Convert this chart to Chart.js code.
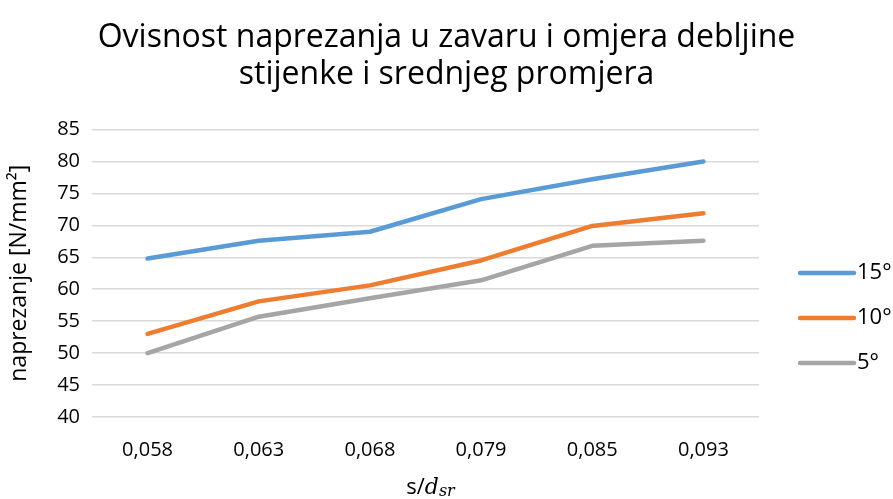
<!DOCTYPE html>
<html>
<head>
<meta charset="utf-8">
<script src="https://cdn.jsdelivr.net/npm/chart.js@4"></script>
<style>
  html, body { margin: 0; padding: 0; background: #fff; }
  #wrap { width: 893px; height: 499px; }
</style>
</head>
<body>
<div id="wrap"><canvas id="myChart"></canvas></div>
<script>
// data
const categories = ["0,058", "0,063", "0,068", "0,079", "0,085", "0,093"];
const series15 = [64.8, 67.6, 69.0, 74.1, 77.2, 80.0];
const series10 = [53.0, 58.1, 60.6, 64.5, 69.9, 71.9];
const series5 = [50.0, 55.7, 58.6, 61.4, 66.8, 67.6];
const seriesNames = ["15°", "10°", "5°"];
const yTicks = [40, 45, 50, 55, 60, 65, 70, 75, 80, 85];
const titleLines = [
  "Ovisnost naprezanja u zavaru i omjera debljine",
  "stijenke i srednjeg promjera",
];

const FONT = "Open Sans";

// chart title, centred on the whole canvas (legend sits to the right)
const titlePlugin = {
  id: "wideTitle",
  afterDraw(chart) {
    const c = chart.ctx;
    c.save();
    c.fillStyle = "#000";
    c.font = "32px '" + FONT + "'";
    c.textAlign = "center";
    c.textBaseline = "middle";
    titleLines.forEach(function (line, i) {
      c.fillText(line, chart.width / 2, 38 + i * 37);
    });
    c.restore();
  },
};

// x axis title with italic subscript: s/d_sr
const xTitlePlugin = {
  id: "xTitle",
  afterDraw(chart) {
    const c = chart.ctx;
    const area = chart.chartArea;
    c.save();
    c.fillStyle = "#000";
    c.textBaseline = "alphabetic";
    let parts = [
      { t: "s/", f: "22px '" + FONT + "'", dy: 0 },
      { t: "d", f: "italic 22px 'DejaVu Serif'", dy: 0 },
      { t: "sr", f: "italic 16px 'DejaVu Serif'", dy: 2 },
    ];
    let total = 0;
    for (let p of parts) {
      c.font = p.f;
      p.w = c.measureText(p.t).width;
      total += p.w;
    }
    let x = (area.left + area.right) / 2 - total / 2 + 5;
    let y = 494;
    for (let p of parts) {
      c.font = p.f;
      c.fillText(p.t, x, y + p.dy);
      x += p.w;
    }
    c.restore();
  },
};

// legend drawn at the right side
const legendPlugin = {
  id: "sideLegend",
  afterDraw(chart) {
    const c = chart.ctx;
    c.save();
    chart.data.datasets.forEach(function (ds, i) {
      let y = 273 + i * 45;
      c.strokeStyle = ds.borderColor;
      c.lineWidth = 4.5;
      c.lineCap = "round";
      c.beginPath();
      c.moveTo(800, y);
      c.lineTo(854, y);
      c.stroke();
      c.fillStyle = "#000";
      c.font = "22px '" + FONT + "'";
      c.textBaseline = "middle";
      c.textAlign = "left";
      c.fillText(ds.label, 857, y);
    });
    c.restore();
  },
};

const ctx = document.getElementById("myChart");

function makeSet(label, values, color) {
  return {
    label: label,
    data: values,
    borderColor: color,
    backgroundColor: color,
    borderWidth: 4.5,
    borderCapStyle: "round",
    borderJoinStyle: "round",
    pointRadius: 0,
    tension: 0,
    fill: false,
  };
}

new Chart(ctx, {
  type: "line",
  data: {
    labels: categories,
    datasets: [
      makeSet(seriesNames[0], series15, "#5B9BD5"),
      makeSet(seriesNames[1], series10, "#ED7D31"),
      makeSet(seriesNames[2], series5, "#A5A5A5"),
    ],
  },
  plugins: [titlePlugin, xTitlePlugin, legendPlugin],
  options: {
    responsive: true,
    maintainAspectRatio: false,
    animation: false,
    layout: { padding: { left: 0, right: 134, top: 129.5, bottom: 0 } },
    plugins: {
      legend: { display: false },
      tooltip: { enabled: false },
      title: { display: false },
    },
    scales: {
      x: {
        offset: true,
        grid: { display: false, drawTicks: false },
        border: { display: false },
        ticks: {
          color: "#000",
          font: { family: FONT, size: 20 },
          padding: 21,
          maxRotation: 0,
        },
        afterFit(scale) {
          scale.height = 82;
        },
      },
      y: {
        min: yTicks[0],
        max: yTicks[yTicks.length - 1],
        afterBuildTicks(scale) {
          scale.ticks = yTicks.map((v) => ({ value: v }));
        },
        grid: { color: "#d9d9d9", lineWidth: 1.5, drawTicks: false },
        border: { display: false },
        ticks: {
          color: "#000",
          font: { family: FONT, size: 20 },
          padding: 12,
        },
        title: {
          display: true,
          text: "naprezanje [N/mm²]",
          color: "#000",
          font: { family: FONT, size: 23 },
          padding: { top: 6, bottom: 0 },
        },
        afterFit(scale) {
          scale.width = 92;
        },
      },
    },
  },
});
</script>
</body>
</html>
